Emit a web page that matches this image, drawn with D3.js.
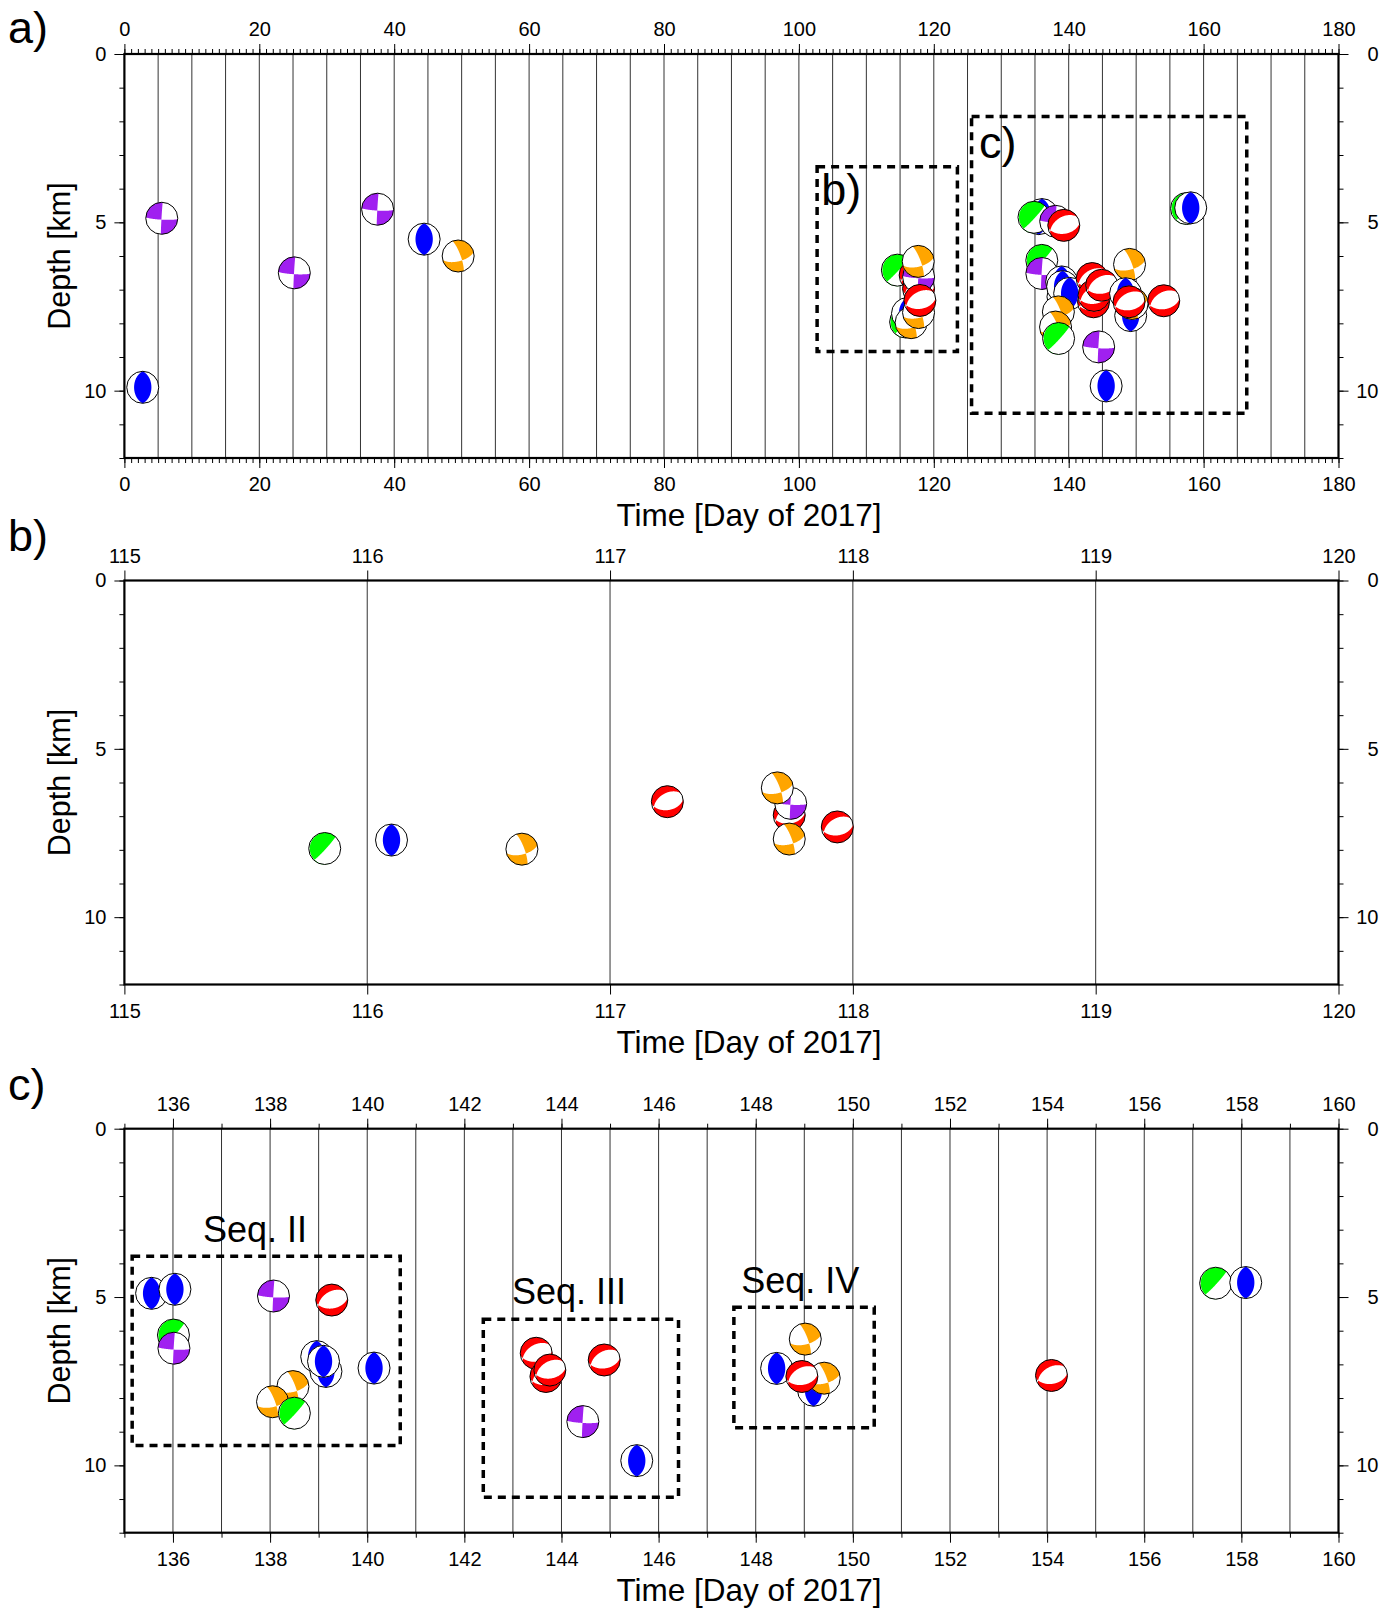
<!DOCTYPE html>
<html>
<head>
<meta charset="utf-8">
<script src="https://cdn.jsdelivr.net/npm/d3@7"></script>
<style>
  body { margin: 0; background: #fff; }
  svg text { font-family: "Liberation Sans", Arial, Helvetica, sans-serif; fill: #000; }
</style>
</head>
<body>
<svg id="chart" width="1397" height="1612"></svg>
<script>
// ---------------- data ----------------
// focal mechanism families: colour + T / P axes (trend, plunge in degrees)
const mechNames  = ["thrust", "strikeslip", "oblique", "normal", "dipslip"];
const mechColors = ["#0000ff", "#a020f0", "#ffa500", "#ff0000", "#00ff00"];
const mechT      = [[0, 90], [318, 4], [30, 10], [340, 0], [318, 50]];
const mechP      = [[90, 0], [48, 6], [300, 29], [70, 78], [128, 40]];

// events, in drawing order (day of 2017, depth km, mechanism index)
const eventDay = [
  2.72, 5.54, 25.19, 37.54, 44.44, 49.48,
  114.6, 115.825, 116.10, 116.637, 117.236, 117.738, 117.744, 117.689, 117.738, 117.936,
  135.56, 136.04, 134.85, 136.01, 136.02, 138.07, 139.27, 138.96, 139.15, 139.10, 140.14,
  138.47, 138.05, 138.50,
  143.48, 143.68, 143.76, 144.88, 144.44, 145.55,
  149.02, 148.43, 149.19, 149.41, 148.95,
  154.09, 157.47, 158.09
];
const eventDepth = [
  9.90, 4.88, 6.50, 4.61, 5.50, 6.00,
  6.42, 7.96, 7.71, 7.98, 6.57, 6.97, 6.62, 6.16, 7.68, 7.32,
  4.89, 4.77, 4.85, 6.13, 6.52, 4.97, 5.09, 6.77, 7.21, 6.91, 7.11,
  7.66, 8.11, 8.45,
  6.67, 7.36, 7.17, 6.87, 8.70, 9.86,
  6.25, 7.12, 7.77, 7.41, 7.36,
  7.33, 4.59, 4.57
];
const eventMech = [
  0, 1, 1, 1, 0, 2,
  4, 4, 0, 2, 3, 3, 1, 2, 2, 3,
  0, 0, 4, 4, 1, 1, 3, 0, 0, 0, 0,
  2, 2, 4,
  3, 3, 3, 3, 1, 0,
  2, 0, 0, 2, 3,
  3, 4, 0
];

// panels
const panelLabels   = ["a)", "b)", "c)"];
const panelDomains  = [[0, 180], [115, 120], [135, 160]];
const panelXLabels  = [
  [0, 20, 40, 60, 80, 100, 120, 140, 160, 180],
  [115, 116, 117, 118, 119, 120],
  [136, 138, 140, 142, 144, 146, 148, 150, 152, 154, 156, 158, 160]
];
const panelMinorStep = [1, 0, 1];
const panelGridStep  = [5, 1, 1];
const depthDomain    = [0, 12];
const depthLabels    = [0, 5, 10];

// dashed boxes [panel, day0, day1, depth0, depth1] and their captions
const boxPanel  = [0, 0, 2, 2, 2];
const boxDays   = [[102.7, 123.5], [125.6, 166.4], [135.16, 140.68], [142.39, 146.41], [147.55, 150.44]];
const boxDepths = [[3.35, 8.84], [1.86, 10.67], [3.79, 9.41], [5.66, 10.95], [5.30, 8.88]];
const boxText   = ["b)", "c)", "Seq. II", "Seq. III", "Seq. IV"];
const boxTextAt = [[103.3, 4.48], [126.7, 3.09], [136.62, 3.36], [142.98, 5.22], [147.70, 4.88]];

// ---------------- layout ----------------
const svg = d3.select("#chart");
const L = 124.4, Rt = 1338.5, H = 404;
const tops = [54, 580.5, 1128.7];
const BR = 16; // beachball radius

svg.append("defs").append("clipPath").attr("id", "ballClip")
  .append("circle").attr("r", BR);

// ---------------- beachball shapes ----------------
const GRID = 80, EXT = 1.12;
const dot = (a, b) => a[0] * b[0] + a[1] * b[1] + a[2] * b[2];
function axisVec(tr, pl) {
  const t = tr * Math.PI / 180, p = pl * Math.PI / 180;
  return [Math.cos(p) * Math.cos(t), Math.cos(p) * Math.sin(t), Math.sin(p)];
}
// lower-hemisphere, equal-area; shaded where P-wave first motion is compressional
function ballPath(tAx, pAx) {
  const t = axisVec(tAx[0], tAx[1]);
  let p = axisVec(pAx[0], pAx[1]);
  const k = dot(p, t);
  p = p.map((v, i) => v - k * t[i]);
  const n = Math.hypot(p[0], p[1], p[2]);
  p = p.map(v => v / n);
  const vals = new Array(GRID * GRID);
  for (let j = 0; j < GRID; j++) {
    for (let i = 0; i < GRID; i++) {
      const x = ((i + 0.5) / GRID * 2 - 1) * EXT;
      const y = ((j + 0.5) / GRID * 2 - 1) * EXT;
      const r = Math.min(Math.hypot(x, y), 1.4);
      const inc = 2 * Math.asin(r / Math.SQRT2), az = Math.atan2(x, -y);
      const g = [Math.sin(inc) * Math.cos(az), Math.sin(inc) * Math.sin(az), Math.cos(inc)];
      const a = dot(g, t), b = dot(g, p);
      vals[j * GRID + i] = a * a - b * b;
    }
  }
  const c = d3.contours().size([GRID, GRID]).thresholds([0])(vals)[0];
  const sc = v => ((v / GRID) * 2 - 1) * EXT * BR;
  return c.coordinates.map(poly => poly.map(ring =>
    "M" + ring.map(q => sc(q[0]).toFixed(2) + "," + sc(q[1]).toFixed(2)).join("L") + "Z"
  ).join("")).join("");
}
const mechPaths = mechNames.map((m, i) => ballPath(mechT[i], mechP[i]));

const events = eventDay.map((d, i) => ({ day: d, depth: eventDepth[i], mech: eventMech[i] }));

// ---------------- panels ----------------
panelLabels.forEach((lab, pi) => {
  const top = tops[pi];
  const dom = panelDomains[pi];
  const x = d3.scaleLinear().domain(dom).range([L, Rt]);
  const y = d3.scaleLinear().domain(depthDomain).range([top, top + H]);
  const g = svg.append("g");

  // vertical grid lines
  const grid = d3.range(dom[0] + panelGridStep[pi], dom[1] - 1e-6, panelGridStep[pi]);
  g.selectAll("line.grid").data(grid).join("line")
    .attr("class", "grid")
    .attr("x1", d => x(d)).attr("x2", d => x(d))
    .attr("y1", top).attr("y2", top + H)
    .attr("stroke", "#333").attr("stroke-width", 1);

  const styleAxis = sel => {
    sel.select(".domain").remove();
    sel.attr("font-size", 20).attr("font-family", null);
    sel.selectAll(".tick line").attr("stroke", "#000").attr("stroke-width", 1);
  };

  // x axes (top + bottom)
  if (panelMinorStep[pi]) {
    const minor = d3.range(dom[0], dom[1] + 1e-6, panelMinorStep[pi]);
    g.append("g").attr("transform", `translate(0,${top})`)
      .call(d3.axisTop(x).tickValues(minor).tickSize(5).tickFormat("")).call(styleAxis);
    g.append("g").attr("transform", `translate(0,${top + H})`)
      .call(d3.axisBottom(x).tickValues(minor).tickSize(5).tickFormat("")).call(styleAxis);
  }
  g.append("g").attr("transform", `translate(0,${top})`)
    .call(d3.axisTop(x).tickValues(panelXLabels[pi]).tickSize(10).tickPadding(8).tickFormat(d3.format("d")))
    .call(styleAxis);
  g.append("g").attr("transform", `translate(0,${top + H})`)
    .call(d3.axisBottom(x).tickValues(panelXLabels[pi]).tickSize(10).tickPadding(9).tickFormat(d3.format("d")))
    .call(styleAxis);

  // y axes (left + right)
  const yMinor = d3.range(depthDomain[0], depthDomain[1] + 1e-6, 1);
  g.append("g").attr("transform", `translate(${L},0)`)
    .call(d3.axisLeft(y).tickValues(yMinor).tickSize(5).tickFormat("")).call(styleAxis);
  g.append("g").attr("transform", `translate(${Rt},0)`)
    .call(d3.axisRight(y).tickValues(yMinor).tickSize(5).tickFormat("")).call(styleAxis);
  g.append("g").attr("transform", `translate(${L},0)`)
    .call(d3.axisLeft(y).tickValues(depthLabels).tickSize(10).tickPadding(8).tickFormat(d3.format("d")))
    .call(styleAxis);
  g.append("g").attr("transform", `translate(${Rt},0)`)
    .call(d3.axisRight(y).tickValues(depthLabels).tickSize(10).tickFormat(d3.format("d")))
    .call(styleAxis)
    .selectAll("text").attr("text-anchor", "end").attr("x", 40);

  // frame
  g.append("rect")
    .attr("x", L).attr("y", top).attr("width", Rt - L).attr("height", H)
    .attr("fill", "none").attr("stroke", "#000").attr("stroke-width", 2.2);

  // axis titles
  g.append("text").attr("x", 749).attr("y", top + H + 68)
    .attr("text-anchor", "middle").attr("font-size", 31.5)
    .text("Time [Day of 2017]");
  g.append("text")
    .attr("transform", `translate(70,${top + H / 2}) rotate(-90)`)
    .attr("text-anchor", "middle").attr("font-size", 30.5)
    .text("Depth [km]");

  // panel label
  g.append("text").attr("x", 8).attr("y", top - [11, 29.5, 28.7][pi])
    .attr("font-size", 45).text(lab);

  // dashed boxes + captions
  boxPanel.forEach((bp, bi) => {
    if (bp !== pi) return;
    g.append("rect")
      .attr("x", x(boxDays[bi][0])).attr("y", y(boxDepths[bi][0]))
      .attr("width", x(boxDays[bi][1]) - x(boxDays[bi][0]))
      .attr("height", y(boxDepths[bi][1]) - y(boxDepths[bi][0]))
      .attr("fill", "none").attr("stroke", "#000")
      .attr("stroke-width", 3.5).attr("stroke-dasharray", "8,6");
    g.append("text")
      .attr("x", x(boxTextAt[bi][0])).attr("y", y(boxTextAt[bi][1]))
      .attr("font-size", bi < 2 ? 45 : 36).text(boxText[bi]);
  });

  // beachballs
  const inPanel = events.filter(e => e.day >= dom[0] && e.day <= dom[1]);
  const balls = g.selectAll("g.ball").data(inPanel).join("g")
    .attr("class", "ball")
    .attr("transform", d => `translate(${x(d.day)},${y(d.depth)})`);
  balls.append("circle").attr("r", BR).attr("fill", "#fff");
  balls.append("path")
    .attr("d", d => mechPaths[d.mech])
    .attr("fill", d => mechColors[d.mech])
    .attr("clip-path", "url(#ballClip)");
  balls.append("circle").attr("r", BR)
    .attr("fill", "none").attr("stroke", "#000").attr("stroke-width", 1);
});
</script>
</body>
</html>
